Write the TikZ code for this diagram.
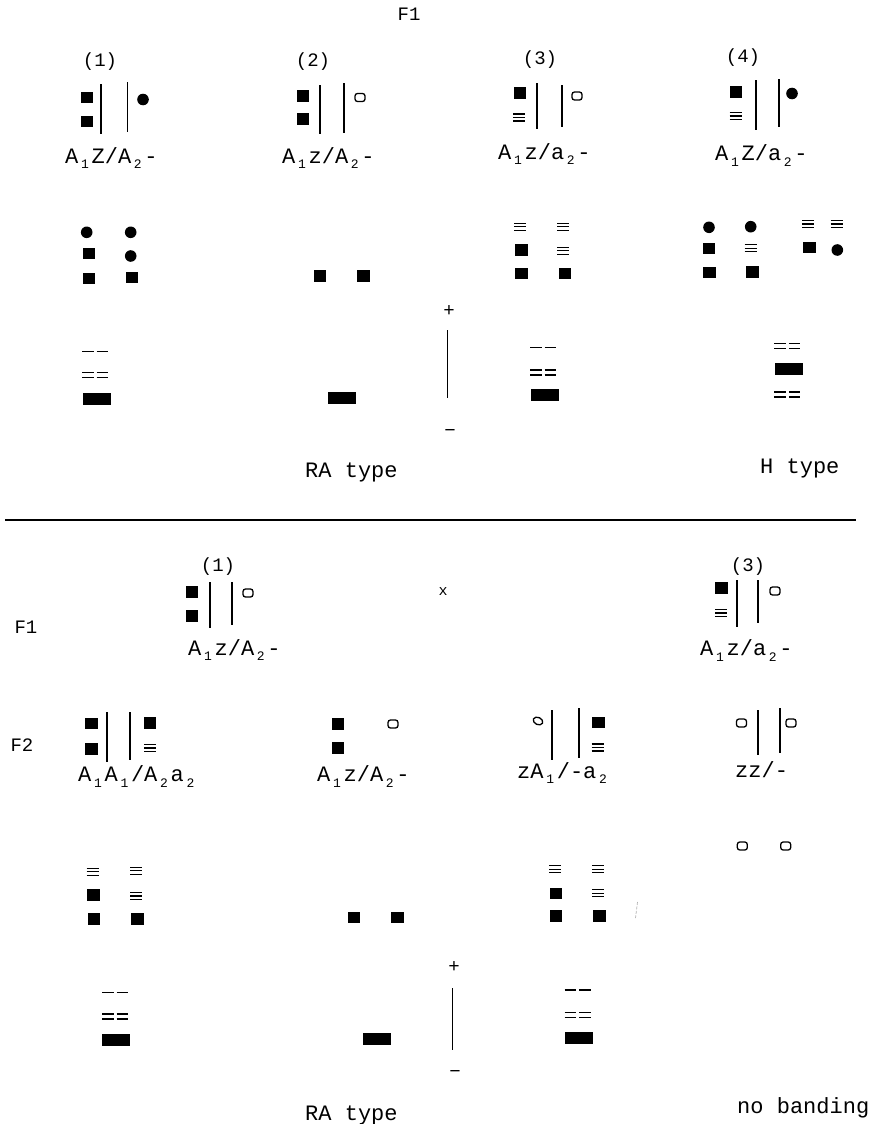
\documentclass[tikz,border=0pt]{standalone}
\usepackage{fontspec}
\newfontfamily\dmfont{Liberation Mono}
\newcommand\sbs[1]{\makebox[0.6em][c]{\raisebox{-0.25em}{\fontsize{13}{13}\selectfont #1}}}
\begin{document}
\begin{tikzpicture}[x=1pt,y=-1pt,
  lbl/.style={font=\dmfont\fontsize{22}{24}\selectfont, inner sep=0pt, anchor=base west},
  hdr/.style={font=\dmfont\fontsize{19}{22}\selectfont, inner sep=0pt},
  chrom/.style={line width=1.8pt},
  ink/.style={line width=1.3pt},
  sq/.pic={\fill (-6.3,-5.8) rectangle (6.3,5.8);},
  dt/.pic={\fill (0,0) circle[radius=5.8];},
  oc/.pic={\draw[line width=1.3pt, rounded corners=2.5pt] (-5,-4) rectangle (5,4);},
  io/.pic={\draw[line width=1.3pt, rotate=-25] (0,0) ellipse[x radius=5, y radius=3.6];},
  tri/.pic={\draw[ink] (-6,-3.5) -- (6,-3.5) (-6,0) -- (6,0) (-6,3.5) -- (6,3.5);},
  dsh/.pic={\draw[ink] (-13,0) -- (-1.5,0) (1.5,0) -- (13,0);},
  dbl/.pic={\draw[ink] (-13,-2.5) -- (-1.5,-2.5) (1.5,-2.5) -- (13,-2.5) (-13,2.5) -- (-1.5,2.5) (1.5,2.5) -- (13,2.5);},
  thk/.pic={\fill (-14,-6) rectangle (14,6);}
]
\fill[white] (0,0) rectangle (879,1124);
\useasboundingbox (0,0) rectangle (879,1124);

% ================= TOP SECTION =================
\node[hdr] (f1top) at (409,14) {F1};
\node[hdr] (h1) at (100,62) {(1)};
\node[hdr] (h2) at (313,62) {(2)};
\node[hdr] (h3) at (540,60) {(3)};
\node[hdr] (h4) at (743,58) {(4)};

% (1)
\pic at (87,97.5) {sq}; \pic at (87,121.5) {sq};
\draw[chrom] (101,84) -- (101,134); \draw[chrom] (127.5,82) -- (127.5,132);
\pic at (143,99.5) {dt};
\node[lbl] (l1) at (65,163) {A\sbs{1}Z/A\sbs{2}-};
% (2)
\pic at (303,96) {sq}; \pic at (303,119) {sq};
\draw[chrom] (320,85) -- (320,134); \draw[chrom] (344,83) -- (344,133);
\pic at (360,97.5) {oc};
\node[lbl] (l2) at (282,163) {A\sbs{1}z/A\sbs{2}-};
% (3)
\pic at (520,93) {sq}; \pic at (519,117.5) {tri};
\draw[chrom] (537,83) -- (537,129); \draw[chrom] (562,85) -- (562,127);
\pic at (577,96) {oc};
\node[lbl] (l3) at (498,159) {A\sbs{1}z/a\sbs{2}-};
% (4)
\pic at (736,92) {sq}; \pic at (735.5,116) {tri};
\draw[chrom] (756,80) -- (756,130); \draw[chrom] (779,79) -- (779,127);
\pic at (792,93.5) {dt};
\node[lbl] (l4) at (715,160.5) {A\sbs{1}Z/a\sbs{2}-};

% gel patterns top
\pic at (86.7,232.3) {dt}; \pic at (130.7,232.3) {dt};
\pic at (89,253.3) {sq};   \pic at (130.7,256) {dt};
\pic at (89,278.3) {sq};   \pic at (132,277.3) {sq};
\pic at (95,351.7) {dsh}; \pic at (95,375) {dbl}; \pic at (97,399) {thk};

\pic at (320,276) {sq}; \pic at (363.3,276) {sq};
\pic at (342.3,397.5) {thk};

\node[hdr] (plus1) at (449,311) {+};
\draw[line width=1pt] (447,330) -- (447,398);
\node[hdr] (minus1) at (450,433) {−};

\pic at (520,226.7) {tri}; \pic at (563.3,226.7) {tri};
\pic at (521.7,250) {sq};  \pic at (563.3,250.7) {tri};
\pic at (521.7,273.3) {sq}; \pic at (565,273.3) {sq};
\pic at (543,347.7) {dsh}; \pic at (543,372.5) {dbl}; \pic at (544.5,395.3) {thk};

\pic at (709,227.3) {dt}; \pic at (750.7,226.7) {dt};
\pic at (709,248.3) {sq}; \pic at (750.7,248.3) {tri};
\pic at (709.3,272.3) {sq}; \pic at (752.3,271.7) {sq};
\pic at (808.3,224) {tri}; \pic at (836.7,224) {tri};
\pic at (809.3,247.3) {sq}; \pic at (837.3,250) {dt};
\pic at (787.3,345.8) {dbl}; \pic at (788.8,369.3) {thk}; \pic at (787.3,394.5) {dbl};

\node[lbl] (ra1) at (305,477) {RA type};
\node[lbl] (ht) at (760,473) {H type};

\draw[line width=1.1pt] (5,520) -- (856,520);

% ================= BOTTOM SECTION =================
\node[hdr] (b1) at (218,567) {(1)};
\pic at (192,592) {sq}; \pic at (192,616) {sq};
\draw[chrom] (210,582) -- (210,628); \draw[chrom] (232,582) -- (232,625);
\pic at (248,593) {oc};
\node[lbl] (bl1) at (188,655) {A\sbs{1}z/A\sbs{2}-};
\node[hdr] (f1b) at (26,627) {F1};
\node[hdr, font=\dmfont\fontsize{15}{18}\selectfont] (cross) at (443,592) {x};

\node[hdr] (b3) at (748,567) {(3)};
\pic at (721.5,588) {sq}; \pic at (721,613) {tri};
\draw[chrom] (737,580) -- (737,627); \draw[chrom] (758,580) -- (758,623);
\pic at (775,591) {oc};
\node[lbl] (bl3) at (700,655.5) {A\sbs{1}z/a\sbs{2}-};

\node[hdr] (f2) at (22,745) {F2};
\pic at (91.5,723.5) {sq}; \pic at (91.5,749) {sq};
\draw[chrom] (107,712) -- (107,762); \draw[chrom] (130,712) -- (130,760);
\pic at (150,723) {sq}; \pic at (150,748) {tri};
\node[lbl] (c1) at (78,781.5) {A\sbs{1}A\sbs{1}/A\sbs{2}a\sbs{2}};

\pic at (338,724) {sq}; \pic at (338,748) {sq};
\pic at (393,724) {oc};
\node[lbl] (c2) at (317,781.5) {A\sbs{1}z/A\sbs{2}-};

\pic at (538,721) {io};
\draw[chrom] (552,710) -- (552,760); \draw[chrom] (579,708) -- (579,758);
\pic at (598.5,722.5) {sq}; \pic at (597.5,747.5) {tri};
\node[lbl] (c3) at (517,778) {zA\sbs{1}/-a\sbs{2}};

\pic at (741.5,723) {oc};
\draw[chrom] (758,710) -- (758,755); \draw[chrom] (780,708) -- (780,753);
\pic at (791,723) {oc};
\node[lbl] (c4) at (735,777) {zz/-};

% gel patterns bottom
\pic at (92.7,871.7) {tri}; \pic at (136,870.7) {tri};
\pic at (93.3,895) {sq};    \pic at (136,896) {tri};
\pic at (94,919) {sq};      \pic at (137.3,919) {sq};
\pic at (115,992.3) {dsh}; \pic at (115,1016.5) {dbl}; \pic at (116.3,1040.3) {thk};

\pic at (354,917.3) {sq}; \pic at (397.3,917.3) {sq};
\pic at (376.7,1038.8) {thk};

\pic at (555,869.3) {tri}; \pic at (598.3,869.3) {tri};
\pic at (556,893.3) {sq};  \pic at (598.3,893.3) {tri};
\pic at (556,916) {sq};    \pic at (599.3,916) {sq};
\pic at (577.5,990) {dsh}; \pic at (577.5,1015) {dbl}; \pic at (578.8,1038.3) {thk};
\draw[gray!60, line width=0.7pt, dash pattern=on 3pt off 1.5pt] (637.5,902) -- (635.5,918);

\pic at (742.3,846) {oc}; \pic at (785.7,846) {oc};

\node[hdr] (plus2) at (454,966.7) {+};
\draw[line width=1pt] (452.7,988) -- (452.7,1050);
\node[hdr] (minus2) at (455,1074) {−};

\node[lbl] (ra2) at (305,1120) {RA type};
\node[lbl] (nb) at (737,1113) {no banding};
\end{tikzpicture}
\end{document}
